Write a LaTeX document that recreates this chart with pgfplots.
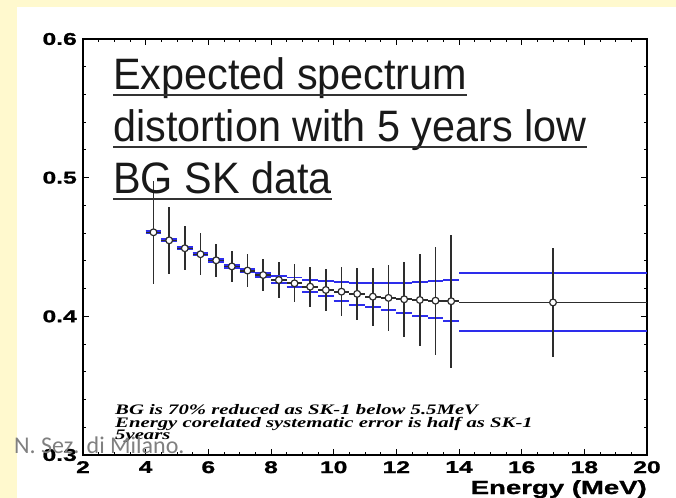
\documentclass[border=0pt]{standalone}
\usepackage{fontspec}
\usepackage{pgfplots}
\usepackage{pgfplotstable}
\pgfplotsset{compat=1.18}
\setmainfont{Liberation Sans}
\newfontface\tickfont{Liberation Sans Bold}[FakeStretch=1.45,FakeBold=1.2]
\newfontface\titlefont{Liberation Sans}[FakeStretch=0.94]
\newfontface\notefont{Liberation Serif Bold Italic}[FakeStretch=1.43]
\newfontface\wmfont{Carlito}

\definecolor{pagebg}{RGB}{255,249,206}
\definecolor{sysblue}{RGB}{45,45,235}
\definecolor{barblack}{RGB}{45,45,45}

% Expected spectrum ratio: bin centre, value, half bin width, statistical error
\pgfplotstableread{
E      y       ex    ey
4.25   0.4606  0.25  0.037
4.75   0.4548  0.25  0.024
5.25   0.4491  0.25  0.016
5.75   0.4448  0.25  0.015
6.25   0.4404  0.25  0.012
6.75   0.4360  0.25  0.011
7.25   0.4330  0.25  0.012
7.75   0.4298  0.25  0.0117
8.25   0.4262  0.25  0.013
8.75   0.4238  0.25  0.0137
9.25   0.4214  0.25  0.0145
9.75   0.4190  0.25  0.0153
10.25  0.4178  0.25  0.0178
10.75  0.4162  0.25  0.019
11.25  0.4142  0.25  0.021
11.75  0.4133  0.25  0.0236
12.25  0.4123  0.25  0.027
12.75  0.4118  0.25  0.033
13.25  0.4113  0.25  0.039
13.75  0.4109  0.25  0.048
17.0   0.4100  3.0   0.0395
}\spectrum

% Upper edge of the systematic band, one segment per bin (nan breaks the line)
\pgfplotstableread{
E     y
4.0   0.4614
4.5   0.4614
nan   nan
4.5   0.4556
5.0   0.4556
nan   nan
5.0   0.4499
5.5   0.4499
nan   nan
5.5   0.4456
6.0   0.4456
nan   nan
6.0   0.4413
6.5   0.4413
nan   nan
6.5   0.4370
7.0   0.4370
nan   nan
7.0   0.4343
7.5   0.4343
nan   nan
7.5   0.4315
8.0   0.4315
nan   nan
8.0   0.4292
8.5   0.4292
nan   nan
8.5   0.4280
9.0   0.4280
nan   nan
9.0   0.4265
9.5   0.4265
nan   nan
9.5   0.4255
10.0  0.4255
nan   nan
10.0  0.4245
10.5  0.4245
nan   nan
10.5  0.4240
11.0  0.4240
nan   nan
11.0  0.4240
11.5  0.4240
nan   nan
11.5  0.4240
12.0  0.4240
nan   nan
12.0  0.4240
12.5  0.4240
nan   nan
12.5  0.4250
13.0  0.4250
nan   nan
13.0  0.4255
13.5  0.4255
nan   nan
13.5  0.4262
14.0  0.4262
nan   nan
14.0  0.4310
20.0  0.4310
}\bandup

% Lower edge of the systematic band
\pgfplotstableread{
E     y
4.0   0.4598
4.5   0.4598
nan   nan
4.5   0.4540
5.0   0.4540
nan   nan
5.0   0.4483
5.5   0.4483
nan   nan
5.5   0.4440
6.0   0.4440
nan   nan
6.0   0.4395
6.5   0.4395
nan   nan
6.5   0.4350
7.0   0.4350
nan   nan
7.0   0.4317
7.5   0.4317
nan   nan
7.5   0.4281
8.0   0.4281
nan   nan
8.0   0.4240
8.5   0.4240
nan   nan
8.5   0.4214
9.0   0.4214
nan   nan
9.0   0.4178
9.5   0.4178
nan   nan
9.5   0.4147
10.0  0.4147
nan   nan
10.0  0.4113
10.5  0.4113
nan   nan
10.5  0.4082
11.0  0.4082
nan   nan
11.0  0.4065
11.5  0.4065
nan   nan
11.5  0.4046
12.0  0.4046
nan   nan
12.0  0.4022
12.5  0.4022
nan   nan
12.5  0.4003
13.0  0.4003
nan   nan
13.0  0.3986
13.5  0.3986
nan   nan
13.5  0.3967
14.0  0.3967
nan   nan
14.0  0.3895
20.0  0.3895
}\banddown

\begin{document}
\begin{tikzpicture}
\useasboundingbox (0bp,0bp) rectangle (676bp,498bp);
\fill[pagebg] (0bp,0bp) rectangle (676bp,498bp);
\fill[white] (17bp,0bp) rectangle (676bp,491bp);

\begin{axis}[
  at={(83bp,43bp)}, anchor=south west,
  width=564bp, height=416bp, scale only axis,
  xmin=2, xmax=20, ymin=0.3, ymax=0.6,
  xtick={2,4,...,20}, ytick={0.3,0.4,0.5,0.6},
  minor x tick num=3, minor y tick num=4,
  tick align=inside,
  major tick length=6bp, minor tick length=3bp,
  axis line style={black, line width=1.3bp},
  every tick/.style={black, line width=1bp},
  unbounded coords=jump,
  /pgf/number format/assume math mode=true,
  ticklabel style={font=\tickfont\fontsize{17bp}{19bp}\selectfont, inner sep=0pt},
  xticklabel style={anchor=north, yshift=-6bp},
  yticklabel style={anchor=east, xshift=-6bp,
    /pgf/number format/.cd, fixed, precision=1, zerofill},
  xlabel={Energy (MeV)},
  x label style={at={(rel axis cs:1,0)}, anchor=base east, yshift=-39bp,
    inner sep=0pt, font=\tickfont\fontsize{19bp}{21bp}\selectfont},
  clip=false,
]
% systematic band, upper and lower edges per bin
\addplot[sysblue, line width=1.9bp, mark=none] table[x=E, y=y] {\bandup};
\addplot[sysblue, line width=1.9bp, mark=none] table[x=E, y=y] {\banddown};
% spectrum points with bin widths and statistical errors
\addplot[only marks, mark=*, mark size=3.4bp,
  mark options={fill=white, draw=barblack, line width=1.2bp},
  error bars/.cd, x dir=both, x explicit, y dir=both, y explicit,
  error mark=none, error bar style={barblack, line width=1.9bp}]
  table[x=E, y=y, x error=ex, y error=ey] {\spectrum};
% the band is drawn once more over the low energy points, where it hugs them
\addplot[sysblue, line width=1.6bp, mark=none, restrict x to domain=4:8.5]
  table[x=E, y=y] {\bandup};
\addplot[sysblue, line width=1.6bp, mark=none, restrict x to domain=4:8.5]
  table[x=E, y=y] {\banddown};
\end{axis}

% headline, each line underlined
\begin{scope}[every node/.style={inner sep=0pt, anchor=base west, text=black!90,
    font=\titlefont\fontsize{44bp}{46bp}\selectfont}]
\node (t1) at (113bp,408bp) {Expected spectrum};
\node (t2) at (113bp,356bp) {distortion with 5 years low};
\node (t3) at (113bp,304bp) {BG SK data};
\end{scope}
\foreach \t in {t1,t2,t3}
  \draw[black!80, line width=1.8bp] ([yshift=-5bp]\t.base west) -- ([yshift=-5bp]\t.base east);

% notes on the assumptions
\begin{scope}[every node/.style={inner sep=0pt, anchor=base west,
    font=\notefont\fontsize{14.5bp}{15bp}\selectfont}]
\node at (115bp,83bp) {BG is 70\% reduced as SK-1 below 5.5MeV};
\node at (115bp,70bp) {Energy corelated systematic error is half as SK-1};
\node at (115bp,58bp) {5years};
\end{scope}

\node[inner sep=0pt, anchor=base west, text=black!50,
  font=\wmfont\fontsize{24bp}{26bp}\selectfont] at (14bp,44bp) {N. Sez. di Milano.};
\end{tikzpicture}
\end{document}
